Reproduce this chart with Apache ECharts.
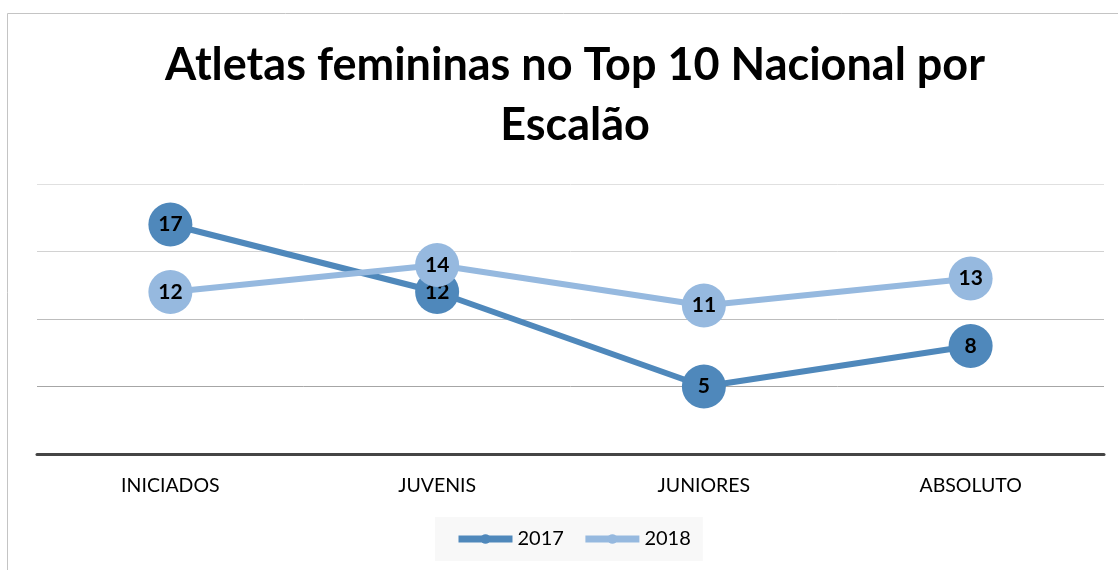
<!DOCTYPE html>
<html>
<head>
<meta charset="utf-8">
<script src="https://cdn.jsdelivr.net/npm/echarts@6/dist/echarts.min.js"></script>
<style>
html,body{margin:0;padding:0;background:#fff;}
#c{width:1118px;height:570px;}
</style>
</head>
<body>
<div id="c"></div>
<script>
const categories = ['INICIADOS', 'JUVENIS', 'JUNIORES', 'ABSOLUTO'];
const series2017 = [17, 12, 5, 8];
const series2018 = [12, 14, 11, 13];
const seriesNames = ['2017', '2018'];
const titleText = 'Atletas femininas no Top 10 Nacional por\nEscalão';

const FONT = 'Lato';
const chart = echarts.init(document.getElementById('c'), null, {renderer: 'canvas'});

function lineSeries(name, data, color, z) {
  return {
    name: name,
    type: 'line',
    data: data,
    z: z,
    symbol: 'circle',
    symbolSize: 44,
    lineStyle: {color: color, width: 6},
    itemStyle: {color: color},
    label: {
      show: true,
      position: 'inside',
      color: '#000',
      fontFamily: FONT,
      fontWeight: 'bold',
      fontSize: 21
    },
    emphasis: {disabled: true},
    animation: false
  };
}

chart.setOption({
  backgroundColor: '#ffffff',
  animation: false,
  title: {
    text: titleText,
    left: 570,
    textAlign: 'center',
    top: 30,
    textStyle: {
      fontFamily: FONT,
      fontWeight: 'bold',
      fontSize: 45,
      lineHeight: 60,
      color: '#000'
    }
  },
  graphic: [{
    type: 'rect',
    silent: true,
    z: -10,
    shape: {x: 7.5, y: 13.5, width: 1300, height: 700},
    style: {fill: null, stroke: '#c4c4c4', lineWidth: 1}
  }],
  legend: {
    data: seriesNames,
    left: 435,
    top: 517,
    backgroundColor: '#f8f8f8',
    padding: [12, 12, 12, 20],
    itemGap: 18,
    itemWidth: 54,
    itemHeight: 12,
    lineStyle: {width: 7},
    textStyle: {fontFamily: FONT, fontSize: 20, color: '#000'}
  },
  grid: {left: 37, right: 14, top: 184, bottom: 116, containLabel: false},
  xAxis: {
    type: 'category',
    data: categories,
    boundaryGap: true,
    axisLine: {show: true, lineStyle: {color: '#454545', width: 3}},
    axisTick: {show: false},
    axisLabel: {fontFamily: FONT, fontSize: 19.5, color: '#000', margin: 22}
  },
  yAxis: {
    type: 'value',
    min: 0,
    max: 20,
    interval: 5,
    axisLabel: {show: false},
    axisLine: {show: false},
    axisTick: {show: false},
    splitLine: {show: true, lineStyle: {color: ['#999999', '#a6a6a6', '#bdbdbd', '#d2d2d2', '#e0e0e0'], width: 1}}
  },
  series: [
    lineSeries(seriesNames[0], series2017, '#4f88bb', 2),
    lineSeries(seriesNames[1], series2018, '#96b9df', 3)
  ]
});
</script>
</body>
</html>
